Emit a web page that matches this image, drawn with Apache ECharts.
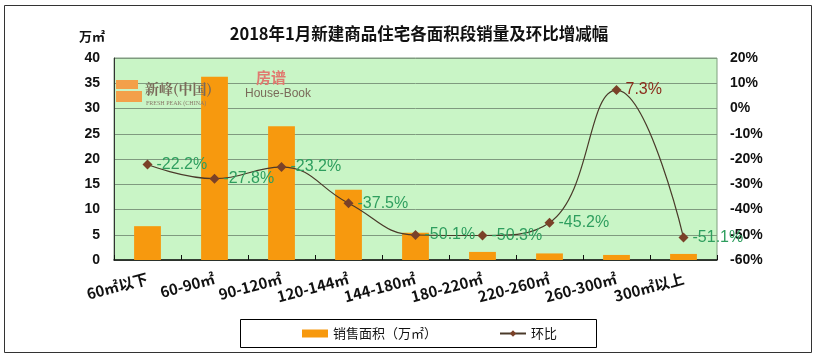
<!DOCTYPE html>
<html><head><meta charset="utf-8">
<script src="https://cdn.jsdelivr.net/npm/echarts@6/dist/echarts.min.js"></script>
<style>html,body{margin:0;padding:0;background:#fff}#c{width:817px;height:359px}</style>
</head><body><div id="c"></div>
<script>
const categories = ['60㎡以下','60-90㎡','90-120㎡','120-144㎡','144-180㎡','180-220㎡','220-260㎡','260-300㎡','300㎡以上'];
const salesArea = [6.7, 36.3, 26.5, 13.9, 5.4, 1.6, 1.3, 1.0, 1.2];
const momChange = [-22.2, -27.8, -23.2, -37.5, -50.1, -50.3, -45.2, 7.3, -51.1];
const leftTicks = {min: 0, max: 40, interval: 5};
const rightTicks = {min: -60, max: 20, interval: 10};

const chart = echarts.init(document.getElementById('c'), null, {renderer: 'canvas'});
const numFont = '"Liberation Sans", "Noto Sans CJK SC", sans-serif';
const cjkFont = '"Noto Sans CJK SC", sans-serif';

const lineData = momChange.map(v => v > 0 ? {value: v, label: {color: '#8b2c1c'}} : v);

chart.setOption({
  animation: false,
  backgroundColor: '#ffffff',
  title: {
    text: '2018年1月新建商品住宅各面积段销量及环比增减幅',
    left: 414, top: 20, textAlign: 'center',
    textStyle: {fontFamily: cjkFont, fontSize: 16.5, fontWeight: 'bold', color: '#111'}
  },
  graphic: [
    {type: 'rect', shape: {x: 4.5, y: 5.5, width: 807, height: 347}, style: {fill: null, stroke: '#333', lineWidth: 1}, z: -1},
    {type: 'rect', shape: {x: 240.5, y: 319.5, width: 356, height: 28}, style: {fill: null, stroke: '#000', lineWidth: 1}},
    {type: 'text', left: 79, top: 30, style: {text: '万㎡', font: 'bold 13px "Noto Sans CJK SC"', fill: '#111'}},
    // logo watermark approximations (drawn above bars)
    {type: 'rect', z: 100, shape: {x: 116, y: 80, width: 22, height: 9}, style: {fill: '#f3a04a'}},
    {type: 'rect', z: 100, shape: {x: 116, y: 91, width: 26, height: 11}, style: {fill: '#f3a04a'}},
    {type: 'text', z: 100, x: 145, y: 82, style: {text: '新峰(中国)', font: 'bold 14px "Noto Serif CJK SC", "Noto Sans CJK SC"', fill: '#7a6a5a'}},
    {type: 'text', z: 100, x: 146, y: 100, style: {text: 'FRESH PEAK (CHINA)', font: '6px "Liberation Serif"', fill: '#8a7a6a'}},
    {type: 'text', z: 100, x: 256, y: 70, style: {text: '房谱', font: 'bold 15px "Noto Sans CJK SC"', fill: '#e07a70'}},
    {type: 'text', z: 100, x: 245, y: 88, style: {text: 'House-Book', font: '12px "Liberation Sans"', fill: '#7a6a5a'}}
  ],
  legend: {
    left: 297, top: 322, itemGap: 62,
    itemWidth: 26, itemHeight: 8,
    textStyle: {fontFamily: cjkFont, fontSize: 13, color: '#111'},
    data: [
      {name: '销售面积（万㎡）', icon: 'rect'},
      {name: '环比'}
    ]
  },
  grid: {left: 114, right: 100, top: 58, bottom: 99, show: true, backgroundColor: '#c9f5c6', borderColor: '#7f9f7f', borderWidth: 1},
  xAxis: {
    type: 'category', data: categories,
    axisLine: {lineStyle: {color: '#111', width: 1.5}},
    axisTick: {show: true, inside: true, length: 5, lineStyle: {color: '#111'}},
    axisLabel: {interval: 0, rotate: 15, margin: 18, fontFamily: cjkFont, fontWeight: 'bold', fontSize: 15, color: '#111'}
  },
  yAxis: [
    {
      type: 'value', min: leftTicks.min, max: leftTicks.max, interval: leftTicks.interval,
      axisLine: {show: true, lineStyle: {color: '#333'}},
      axisTick: {show: false},
      axisLabel: {margin: 14, fontFamily: numFont, fontWeight: 'bold', fontSize: 14, color: '#111'},
      splitLine: {lineStyle: {color: '#7f9a7f', width: 1}}
    },
    {
      type: 'value', min: rightTicks.min, max: rightTicks.max, interval: rightTicks.interval,
      axisLine: {show: false}, axisTick: {show: false},
      axisLabel: {margin: 13, formatter: '{value}%', fontFamily: numFont, fontWeight: 'bold', fontSize: 14, color: '#111'},
      splitLine: {show: false}
    }
  ],
  series: [
    {
      name: '销售面积（万㎡）', type: 'bar', data: salesArea, yAxisIndex: 0,
      barWidth: '40%', itemStyle: {color: '#f7990e'}
    },
    {
      name: '环比', type: 'line', data: lineData, yAxisIndex: 1,
      smooth: 0.45, symbol: 'diamond', symbolSize: 10,
      lineStyle: {color: '#4a3a2a', width: 1.2},
      itemStyle: {color: '#7a4128'},
      label: {
        show: true, position: 'right', distance: 4,
        formatter: p => p.value + '%',
        fontFamily: numFont, fontSize: 16, color: '#2e9e5e'
      },
      labelLayout: {hideOverlap: false},
      z: 5
    }
  ]
});
</script></body></html>
